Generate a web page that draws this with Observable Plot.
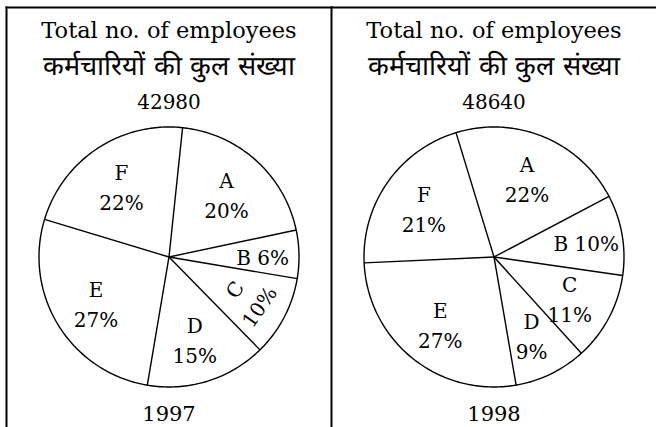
<!DOCTYPE html>
<html><head><meta charset="utf-8">
<script src="https://cdn.jsdelivr.net/npm/d3@7"></script>
<script src="https://cdn.jsdelivr.net/npm/@observablehq/plot@0.6"></script>
<style>body{margin:0;background:#fff}</style>
</head><body><div id="chart"></div>
<script>
const years = ["1997", "1998"];
const totals = [42980, 48640];
const categories = ["A", "B", "C", "D", "E", "F"];
const shares1997 = [20, 6, 10, 15, 27, 22];
const shares1998 = [22, 10, 11, 9, 27, 21];
const startAngles = [6, -17]; // degrees, clockwise from 12 o'clock
const titleEn = "Total no. of employees";
const titleHi = "कर्मचारियों की कुल संख्या";

const sharesByYear = [shares1997, shares1998];
const rad = d => d * Math.PI / 180;
const slices = [], bounds = [], outline = [];
years.forEach((year, i) => {
  let a = startAngles[i];
  sharesByYear[i].forEach((s, j) => {
    const sweep = s * 3.6;
    bounds.push({year, angle: a});
    slices.push({year, cat: categories[j], share: s, mid: a + sweep / 2});
    a += sweep;
  });
  for (let t = 0; t <= 360; t += 1) outline.push({year, t});
});
const labelR = d => d.cat === "B" ? 0.72 : 0.66;
const serif = "DejaVu Serif, Liberation Serif, serif";

const chart = Plot.plot({
  width: 656, height: 427,
  marginTop: 7, marginLeft: 6, marginRight: 0, marginBottom: 0,
  x: {domain: [-1.25, 1.25], axis: null},
  y: {domain: [-1.3115, 1.919], axis: null},
  fx: {domain: years, padding: 0, axis: null},
  style: {background: "white", fontFamily: serif},
  marks: [
    Plot.frame({anchor: "left", stroke: "black", strokeWidth: 2}),
    Plot.frame({anchor: "top", stroke: "black", strokeWidth: 2}),
    Plot.line(outline, {fx: "year", x: d => Math.sin(rad(d.t)), y: d => Math.cos(rad(d.t)), stroke: "black", strokeWidth: 1.4}),
    Plot.link(bounds, {fx: "year", x1: 0, y1: 0, x2: d => Math.sin(rad(d.angle)), y2: d => Math.cos(rad(d.angle)), stroke: "black", strokeWidth: 1.4}),
    Plot.text(slices, {
      fx: "year",
      x: d => labelR(d) * Math.sin(rad(d.mid)),
      y: d => labelR(d) * Math.cos(rad(d.mid)),
      text: d => d.cat === "B" ? `B ${d.share}%` : `${d.cat}\n${d.share}%`,
      rotate: d => (d.year === "1997" && d.cat === "C") ? -55 : 0,
      lineHeight: 1.5, fontSize: 20, fill: "black", fontFamily: serif
    }),
    Plot.text(years, {fx: d => d, text: () => titleEn, frameAnchor: "top", lineAnchor: "bottom", dy: 30, fontSize: 22.5, fill: "black", fontFamily: serif}),
    Plot.text(years, {fx: d => d, text: () => titleHi, frameAnchor: "top", lineAnchor: "bottom", dy: 67, fontSize: 27, fontWeight: "normal", fill: "black"}),
    Plot.text(totals, {fx: (d, i) => years[i], text: d => String(d), frameAnchor: "top", lineAnchor: "bottom", dy: 101, fontSize: 20, fill: "black", fontFamily: serif}),
    Plot.text(years, {fx: d => d, text: d => d, frameAnchor: "bottom", lineAnchor: "bottom", dy: -7, fontSize: 21, fill: "black", fontFamily: serif})
  ]
});
document.getElementById("chart").appendChild(chart);
</script>
</body></html>
